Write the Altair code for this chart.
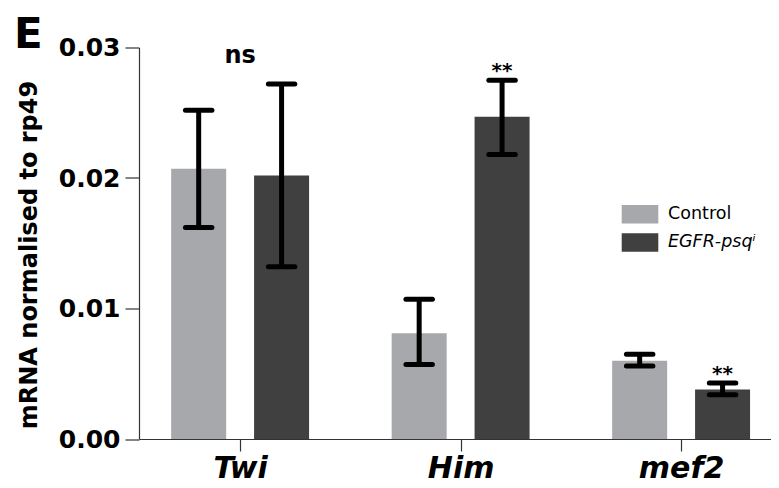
import altair as alt
import pandas as pd

# ---- data ----
genes = ["Twi", "Him", "mef2"]
groups = ["Control", "EGFR-psq"]
control_mean = [0.0207, 0.0081, 0.0060]
control_lo = [0.0162, 0.0057, 0.0056]
control_hi = [0.0252, 0.0107, 0.0065]
egfr_mean = [0.0202, 0.0247, 0.0038]
egfr_lo = [0.0132, 0.0218, 0.0034]
egfr_hi = [0.0272, 0.0275, 0.0043]
sig_labels = ["ns", "**", "**"]
legend_labels = ["Control", "EGFR-psq\u2071"]
y_ticks = [0.0, 0.01, 0.02, 0.03]
bar_colors = ["#a7a8ab", "#404040"]

rows = []
for gi, g in enumerate(genes):
    entries = [
        (groups[0], control_mean[gi], control_lo[gi], control_hi[gi]),
        (groups[1], egfr_mean[gi], egfr_lo[gi], egfr_hi[gi]),
    ]
    for k, (grp, m, lo, hi) in enumerate(entries):
        rows.append(dict(gene=g, gi=gi, group=grp, k=k, mean=m, lo=lo, hi=hi))
df = pd.DataFrame(rows)

sig_df = pd.DataFrame({
    "gi": list(range(len(genes))),
    "label": sig_labels,
    "top": [max(a, b) for a, b in zip(control_hi, egfr_hi)],
    "ehi": egfr_hi,
})

FONT = "DejaVu Sans"
OFF = 0.188
CAP = 0.06

label_expr = "[" + ",".join("'%s'" % g for g in genes) + "][datum.value]"
xscale = alt.Scale(domain=[-0.436, 2.385], nice=False, zero=False)
xaxis = alt.Axis(values=[0, 1, 2], labelExpr=label_expr, title=None, grid=False,
                 labelFont=FONT, labelFontSize=30, labelFontWeight="bold",
                 labelFontStyle="italic", labelColor="black", tickSize=12,
                 labelPadding=2, domainColor="#333333", tickColor="#333333",
                 domainWidth=1.2, tickWidth=1.2, labelFlush=False)
yscale = alt.Scale(domain=[0, 0.03], nice=False)
yaxis = alt.Axis(values=y_ticks, format=".2f", grid=False, title="mRNA normalised to rp49",
                 labelFont=FONT, labelFontSize=25, labelFontWeight="bold", labelColor="black",
                 tickSize=14, labelPadding=5, domainColor="#333333", tickColor="#333333",
                 domainWidth=1.2, tickWidth=1.2,
                 titleFont=FONT, titleFontSize=24, titleFontWeight="bold", titleColor="black",
                 titleAngle=270, titleX=-103, titleY=207, titleAlign="center",
                 titleBaseline="alphabetic")
color = alt.Color("group:N", scale=alt.Scale(domain=groups, range=bar_colors), legend=None)

base = alt.Chart(df).transform_calculate(
    pos="datum.gi + (datum.k - 0.5) * %f" % (2 * OFF),
).transform_calculate(
    cl="datum.pos - %f" % CAP, cr="datum.pos + %f" % CAP
)

bars = base.mark_bar(size=55).encode(
    x=alt.X("pos:Q", scale=xscale, axis=xaxis),
    y=alt.Y("mean:Q", scale=yscale, axis=yaxis),
    color=color,
)
stems = base.mark_rule(strokeWidth=5, color="black").encode(
    x=alt.X("pos:Q", scale=xscale, axis=xaxis),
    y=alt.Y("lo:Q", scale=yscale, axis=yaxis),
    y2="hi:Q",
)
cap_hi = base.mark_rule(strokeWidth=5, color="black", strokeCap="round").encode(
    x=alt.X("cl:Q", scale=xscale, axis=xaxis), x2="cr:Q",
    y=alt.Y("hi:Q", scale=yscale, axis=yaxis),
)
cap_lo = base.mark_rule(strokeWidth=5, color="black", strokeCap="round").encode(
    x=alt.X("cl:Q", scale=xscale, axis=xaxis), x2="cr:Q",
    y=alt.Y("lo:Q", scale=yscale, axis=yaxis),
)

sig_base = alt.Chart(sig_df)
ns_text = sig_base.transform_filter("datum.label == 'ns'").mark_text(
    font=FONT, fontSize=24, fontWeight="bold", baseline="alphabetic", dy=-21, color="black"
).encode(
    x=alt.X("gi:Q", scale=xscale, axis=xaxis),
    y=alt.Y("top:Q", scale=yscale, axis=yaxis),
    text="label:N",
)
star_text = sig_base.transform_filter("datum.label != 'ns'").transform_calculate(
    sp="datum.gi + %f" % OFF
).mark_text(
    font=FONT, fontSize=20, fontWeight="bold", baseline="alphabetic", dy=-3, color="black"
).encode(
    x=alt.X("sp:Q", scale=xscale, axis=xaxis),
    y=alt.Y("ehi:Q", scale=yscale, axis=yaxis),
    text="label:N",
)

# panel letter
panel = alt.Chart(pd.DataFrame({"t": ["E"]})).mark_text(
    font=FONT, fontSize=42, fontWeight="bold", align="left", baseline="alphabetic", color="black"
).encode(x=alt.value(-125), y=alt.value(0), text="t:N")

# manual legend (so the second label can be italic)
legend_layers = []
for i in range(len(groups)):
    ldf = pd.DataFrame({"group": [groups[i]], "label": [legend_labels[i]]})
    top = 157.5 + i * 28.3
    legend_layers.append(
        alt.Chart(ldf).mark_rect().encode(
            x=alt.value(482.7), x2=alt.value(519.3),
            y=alt.value(top), y2=alt.value(top + 18.5), color=color,
        )
    )
    legend_layers.append(
        alt.Chart(ldf).mark_text(
            font=FONT, fontSize=17.5, align="left", baseline="alphabetic", color="black",
            fontStyle="normal" if i == 0 else "italic",
        ).encode(x=alt.value(529), y=alt.value(top + 13.5), text="label:N")
    )

chart = alt.layer(bars, stems, cap_hi, cap_lo, ns_text, star_text, panel, *legend_layers).properties(
    width=632, height=391.5,
    padding={"left": 131, "top": 39.5, "right": 0, "bottom": 48},
    autosize=alt.AutoSizeParams(type="none"),
).configure(background="white").configure_view(stroke=None)

chart.save("out.html", embed_options={"renderer": "svg", "actions": False})
